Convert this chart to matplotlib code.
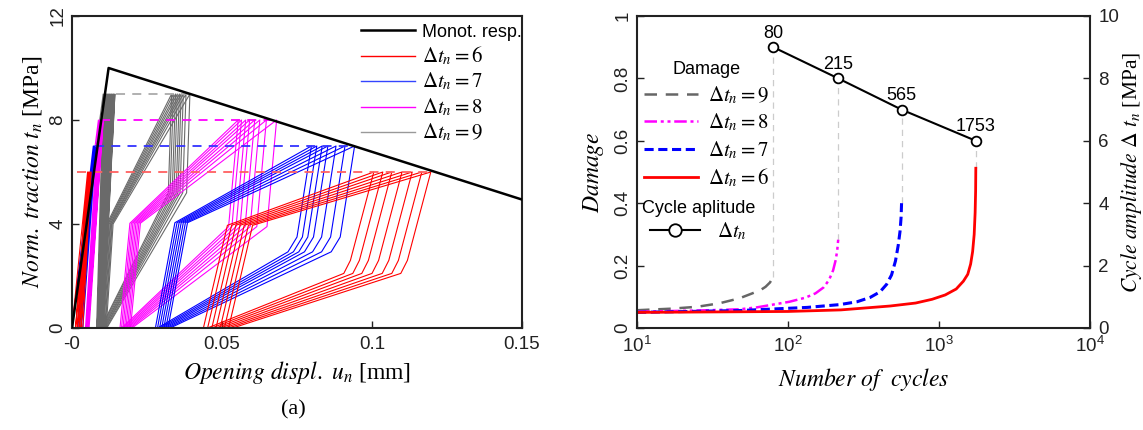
import matplotlib
matplotlib.use('Agg')
import matplotlib.pyplot as plt
from matplotlib.lines import Line2D
from matplotlib.ticker import FixedLocator, FixedFormatter, NullLocator

plt.rcParams['font.family'] = ['Liberation Sans', 'DejaVu Sans']
plt.rcParams['mathtext.fontset'] = 'custom'
plt.rcParams['mathtext.rm'] = 'Liberation Sans'
plt.rcParams['mathtext.it'] = 'Liberation Sans:italic'
plt.rcParams['mathtext.bf'] = 'Liberation Sans:bold'

# ---------------- Panel (a) data ----------------
mono_x = [0.0, 0.0122, 0.15]
mono_y = [0.0, 10.0, 4.94]

# amplitude 6 (red)
red_cl_bot = [0.0, 0.0012, 0.0018, 0.0024, 0.0030, 0.0036]
red_cl_top = [0.0052, 0.0055, 0.0058, 0.0061, 0.0064]
red_bot = [0.0438, 0.0452, 0.0466, 0.0480, 0.0494, 0.0508, 0.0522, 0.0536]
red_top = [0.1006, 0.1036, 0.1066, 0.1100, 0.1134, 0.1166, 0.1196]
red_knee = [0.0080, 3.95]
red_unload = [[-0.0078, 2.6], [-0.0100, 2.1]]
red_dash = [0.0016, 0.1196]

# amplitude 7 (blue)
blue_cl_bot = [0.0, 0.0018, 0.0024, 0.0030, 0.0036]
blue_cl_top = [0.0071, 0.0074, 0.0077, 0.0080]
blue_bot = [0.0278, 0.0285, 0.0292, 0.0299, 0.0306, 0.0313, 0.0320, 0.0327]
blue_top = [0.0798, 0.0816, 0.0834, 0.0853, 0.0880, 0.0910, 0.0942]
blue_knee = [0.0065, 4.05]
blue_unload = [[-0.0048, 3.5], [-0.0078, 2.93]]
blue_dash = [0.0077, 0.0942]

# amplitude 8 (magenta)
mag_cl_bot = [0.0, 0.0045, 0.0048, 0.0051, 0.0054, 0.0057]
mag_cl_top = [0.0088, 0.0092, 0.0096, 0.0100, 0.0104]
mag_bot = [0.0160, 0.0165, 0.0170, 0.0175, 0.0180, 0.0185, 0.0190, 0.0195, 0.0200]
mag_top = [0.0554, 0.0565, 0.0579, 0.0592, 0.0609, 0.0626, 0.0648, 0.0682]
mag_knee = [0.0033, 4.03]
mag_unload = [[-0.0022, 5.2], [-0.0032, 3.9]]
mag_dash = [0.0095, 0.0682]

# amplitude 9 (gray)
gray_cl_bot = [0.0, 0.0082, 0.0084, 0.0086, 0.0088, 0.0090, 0.0092, 0.0094,
               0.0096, 0.0098, 0.0100, 0.0102, 0.0104]
gray_cl_top = [0.0104, 0.0108, 0.0111, 0.0115, 0.0118, 0.0122, 0.0125, 0.0129,
               0.0132, 0.0136, 0.0139, 0.0143]
gray_bot = [0.0093, 0.0096, 0.0098, 0.0101, 0.0104, 0.0106, 0.0109, 0.0111, 0.0114, 0.0116]
gray_top = [0.0332, 0.0338, 0.0345, 0.0351, 0.0358, 0.0364, 0.0371, 0.0380, 0.0393]
gray_knee = [0.0023, 4.0]
gray_unload = [[-0.0011, 5.2]]
gray_dash = [0.0148, 0.0393]

# ---------------- Panel (b) data ----------------
cyc_N = [80, 215, 565, 1753]
cyc_amp = [9, 8, 7, 6]
cyc_labels = ['80', '215', '565', '1753']

d9_N = [10, 17, 25, 35, 47.6, 58, 66, 71, 76, 80]
d9_D = [0.057, 0.062, 0.068, 0.079, 0.095, 0.111, 0.122, 0.132, 0.146, 0.165]
d8_N = [10, 30, 48, 62, 102, 130, 152, 172, 187, 199, 207, 212, 215]
d8_D = [0.052, 0.057, 0.060, 0.066, 0.084, 0.097, 0.111, 0.130, 0.154, 0.185, 0.218, 0.250, 0.283]
d7_N = [10, 48, 134, 220, 286, 350, 407, 450, 485, 515, 537, 552, 561, 565]
d7_D = [0.050, 0.056, 0.066, 0.075, 0.084, 0.098, 0.116, 0.140, 0.170, 0.215, 0.265, 0.310, 0.355, 0.400]
d6_N = [10, 48, 100, 224, 475, 700, 900, 1100, 1300, 1450, 1550, 1620, 1670, 1710, 1735, 1748, 1753]
d6_D = [0.050, 0.052, 0.053, 0.058, 0.0705, 0.080, 0.092, 0.106, 0.125, 0.150, 0.172, 0.205, 0.245,
        0.300, 0.370, 0.440, 0.512]

# ---------------- Figure ----------------
W, H = 1143, 430
fig = plt.figure(figsize=(W / 100, H / 100), dpi=100)
axL = fig.add_axes([72 / W, 102 / H, 450 / W, 312 / H])
axR = fig.add_axes([637 / W, 102 / H, 453 / W, 312 / H])

SER = 'stix'


def style_axes(ax):
    for s in ax.spines.values():
        s.set_linewidth(1.5)
        s.set_color('#222222')
    ax.tick_params(direction='in', length=5, width=1.0, labelsize=13.5,
                   colors='#222222', pad=6)


def draw_group(ax, cl_bot, cl_top, bot, top, knee, unload, amp, color, lw):
    # dense early cycles near the origin
    xs, ys = [], []
    for i in range(len(cl_top)):
        xs += [cl_bot[i], cl_top[i]]
        ys += [0, amp]
    xs.append(cl_bot[-1])
    ys.append(0)
    ax.plot(xs, ys, color=color, lw=lw)
    # later cycles
    for i in range(len(top)):
        xs = [bot[i], bot[i] + knee[0], top[i]] + [top[i] + u[0] for u in unload] + [bot[i + 1]]
        ys = [0, knee[1], amp] + [u[1] for u in unload] + [0]
        ax.plot(xs, ys, color=color, lw=lw)


# ---- left panel ----
style_axes(axL)
GRAY = '#6a6a6a'
draw_group(axL, gray_cl_bot, gray_cl_top, gray_bot, gray_top, gray_knee, gray_unload, 9, GRAY, 0.8)
draw_group(axL, mag_cl_bot, mag_cl_top, mag_bot, mag_top, mag_knee, mag_unload, 8, '#ff00ff', 0.8)
draw_group(axL, blue_cl_bot, blue_cl_top, blue_bot, blue_top, blue_knee, blue_unload, 7, '#0000ff', 0.8)
draw_group(axL, red_cl_bot, red_cl_top, red_bot, red_top, red_knee, red_unload, 6, '#ff0000', 0.8)

dash_ls = (0, (5, 4))
axL.plot(gray_dash, [9, 9], color='#aaaaaa', lw=1.3, ls=dash_ls, zorder=5)
axL.plot(mag_dash, [8, 8], color='#ff00ff', lw=1.3, ls=dash_ls, zorder=5)
axL.plot(blue_dash, [7, 7], color='#3333ff', lw=1.3, ls=dash_ls, zorder=5)
axL.plot(red_dash, [6, 6], color='#ff6060', lw=1.3, ls=dash_ls, zorder=5)
axL.plot(mono_x, mono_y, color='black', lw=1.8, zorder=6)

axL.set_xlim(0, 0.15)
axL.set_ylim(0, 12)
axL.xaxis.set_major_locator(FixedLocator([0, 0.05, 0.1, 0.15]))
axL.xaxis.set_major_formatter(FixedFormatter(['-0', '0.05', '0.1', '0.15']))
axL.yaxis.set_major_locator(FixedLocator([0, 4, 8, 12]))
axL.yaxis.set_major_formatter(FixedFormatter(['0', '4', '8', '12']))
axL.tick_params(axis='y', labelrotation=90, pad=4)
for t in axL.get_yticklabels():
    t.set_va('center')
axL.set_xlabel(r'$\mathit{Opening\ displ.\ u_n}$ [mm]', fontsize=17,
               family='Liberation Serif', math_fontfamily=SER, labelpad=4)
axL.set_ylabel(r'$\mathit{Norm.\ traction\ t_n}$ [MPa]', fontsize=17,
               family='Liberation Serif', math_fontfamily=SER, labelpad=4)

hL = [Line2D([], [], color='black', lw=1.8),
      Line2D([], [], color='#ff0000', lw=1.0),
      Line2D([], [], color='#3344ff', lw=1.0),
      Line2D([], [], color='#ff00ff', lw=1.0),
      Line2D([], [], color='#999999', lw=1.0)]
lL = ['Monot. resp.', r'$\Delta t_n = 6$', r'$\Delta t_n = 7$', r'$\Delta t_n = 8$', r'$\Delta t_n = 9$']
legL = axL.legend(hL, lL, loc='upper right', bbox_to_anchor=(1.0, 0.975), frameon=False,
                  fontsize=13, handlelength=3.0, handletextpad=0.4, labelspacing=0.2,
                  borderpad=0, borderaxespad=0)
for t in legL.get_texts()[1:]:
    t.set_math_fontfamily(SER)
    t.set_fontsize(15)

fig.text(293 / W, 1 - 410 / H, '(a)', ha='center', va='center', fontsize=16,
         family='Liberation Serif')

# ---- right panel ----
style_axes(axR)
axR.set_xscale('log')
axR.set_xlim(10, 1e4)
axR.set_ylim(0, 1)
axR.xaxis.set_major_locator(FixedLocator([10, 100, 1000, 10000]))
axR.xaxis.set_major_formatter(FixedFormatter([r'$\mathregular{10^{1}}$', r'$\mathregular{10^{2}}$',
                                              r'$\mathregular{10^{3}}$', r'$\mathregular{10^{4}}$']))
axR.xaxis.set_minor_locator(NullLocator())
axR.yaxis.set_major_locator(FixedLocator([0, 0.2, 0.4, 0.6, 0.8, 1.0]))
axR.yaxis.set_major_formatter(FixedFormatter(['0', '0.2', '0.4', '0.6', '0.8', '1']))
axR.tick_params(axis='y', labelrotation=90, pad=4)
for t in axR.get_yticklabels():
    t.set_va('center')

for n, a, d_end in zip(cyc_N, cyc_amp, [d9_D[-1], d8_D[-1], d7_D[-1], d6_D[-1]]):
    axR.plot([n, n], [d_end, a / 10], color='#cccccc', lw=0.9, ls=(0, (5, 4)), zorder=1)

axR.plot(d9_N, d9_D, color='#666666', lw=1.8, ls=(0, (5, 3.5)))
axR.plot(d8_N, d8_D, color='#ff00ff', lw=1.8, ls=(0, (5, 1.5, 1.2, 1.5, 1.2, 1.5)))
axR.plot(d7_N, d7_D, color='#0000ff', lw=2.2, ls=(0, (3, 1.5)))
axR.plot(d6_N, d6_D, color='#ff0000', lw=2.0)
axR.set_xlabel(r'$\mathit{Number\ of\ \ cycles}$', fontsize=17, math_fontfamily=SER, labelpad=7)
axR.set_ylabel(r'$\mathit{Damage}$', fontsize=17, math_fontfamily=SER, labelpad=6)

ax2 = axR.twinx()
for s in ax2.spines.values():
    s.set_visible(False)
ax2.set_ylim(0, 10)
ax2.yaxis.set_major_locator(FixedLocator([0, 2, 4, 6, 8, 10]))
ax2.tick_params(direction='in', length=5, width=1.0, labelsize=13.5, colors='#222222', pad=6)
ax2.plot(cyc_N, cyc_amp, color='black', lw=1.5, marker='o', ms=7, mfc='white',
         mec='black', mew=1.3, zorder=5)
for n, a, s in zip(cyc_N, cyc_amp, cyc_labels):
    ax2.annotate(s, (n, a), xytext=(0, 4), textcoords='offset points', ha='center',
                 va='bottom', fontsize=13)
ax2.set_ylabel(r'$\mathit{Cycle\ amplitude\ \Delta\ t_n}$ [MPa]', fontsize=15.5,
               family='Liberation Serif', math_fontfamily=SER, labelpad=0)

hD = [Line2D([], [], color='#666666', lw=1.8, ls=(0, (5, 3.5))),
      Line2D([], [], color='#ff00ff', lw=1.8, ls=(0, (5, 1.5, 1.2, 1.5, 1.2, 1.5))),
      Line2D([], [], color='#0000ff', lw=2.2, ls=(0, (3, 1.5))),
      Line2D([], [], color='#ff0000', lw=2.0)]
lD = [r'$\Delta t_n = 9$', r'$\Delta t_n = 8$', r'$\Delta t_n = 7$', r'$\Delta t_n = 6$']
leg1 = ax2.legend(hD, lD, title='Damage', loc='upper left', bbox_to_anchor=(0.015, 0.855),
                  frameon=False, fontsize=15, title_fontsize=13, handlelength=2.6,
                  handletextpad=0.5, labelspacing=0.28, borderpad=0, borderaxespad=0)
for t in leg1.get_texts():
    t.set_math_fontfamily(SER)
ax2.add_artist(leg1)
hC = [Line2D([], [], color='black', lw=1.5, marker='o', ms=9, mfc='white', mec='black', mew=1.3)]
leg2 = ax2.legend(hC, [r'$\Delta t_n$'], title='Cycle aplitude', loc='upper left',
                  bbox_to_anchor=(0.01, 0.41), frameon=False, fontsize=15, title_fontsize=13,
                  handlelength=2.4, handletextpad=0.8, borderpad=0, borderaxespad=0)
leg2._legend_box.sep = 2
for t in leg2.get_texts():
    t.set_math_fontfamily(SER)

fig.savefig('out.png', dpi=100)
